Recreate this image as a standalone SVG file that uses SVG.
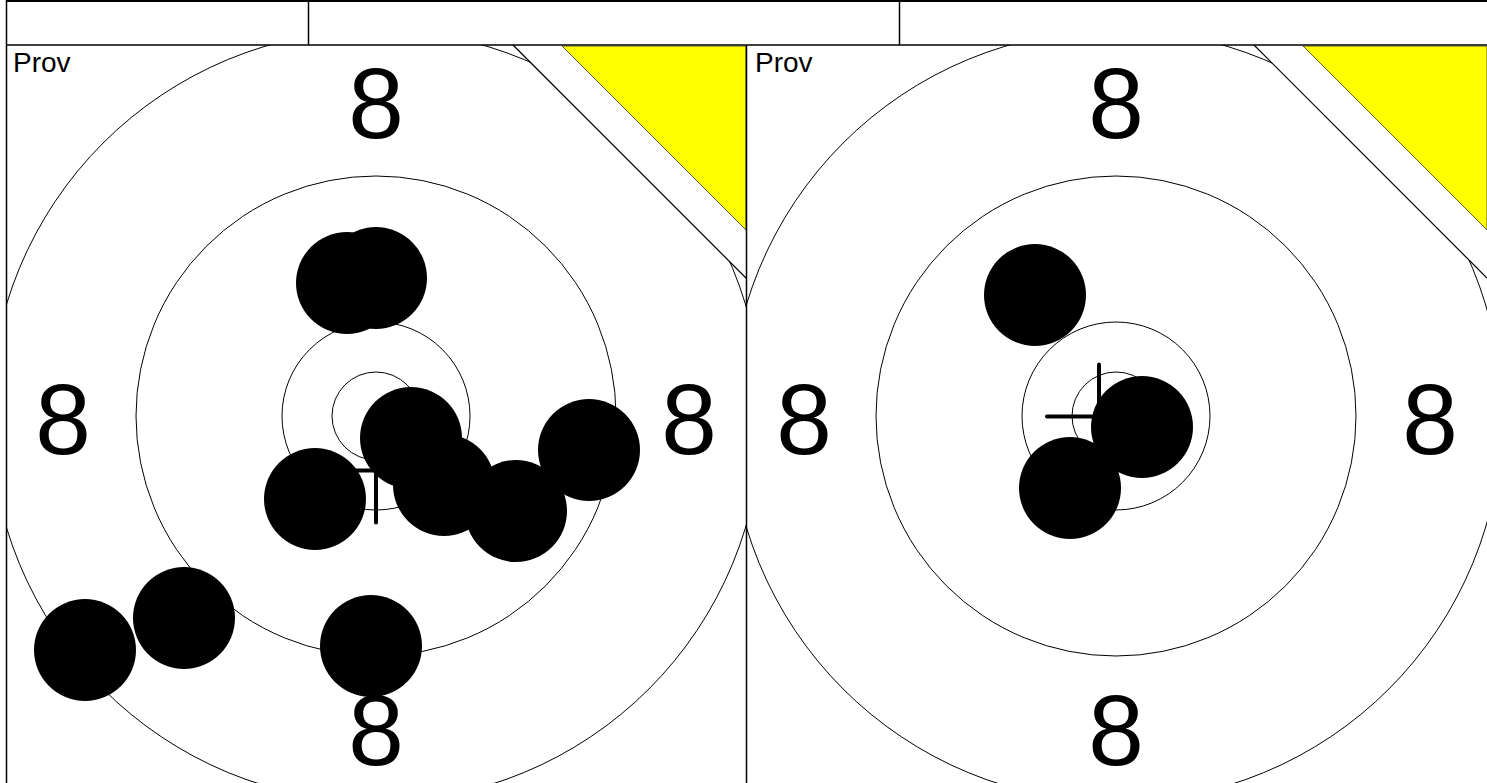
<svg xmlns="http://www.w3.org/2000/svg" width="1487" height="783" viewBox="0 0 1487 783">
<style>
.ring{fill:none;stroke:#000;stroke-width:1}
.shot{fill:#000}
.num{font-family:"Liberation Sans",Arial,sans-serif;font-size:100px;fill:#000;text-anchor:middle}
.lbl{font-family:"Liberation Sans",Arial,sans-serif;font-size:28px;fill:#000}
.cross{stroke:#000;stroke-width:4;stroke-linecap:round}
.diag{stroke:#000;stroke-width:1.2}
.yel{fill:#ffff00;stroke:#333;stroke-width:0.8}
</style>
<defs>
<clipPath id="c1"><polygon points="6,45 513,45 746,278 746,790 6,790"/></clipPath>
<clipPath id="c2"><polygon points="747,45 1254,45 1487,278 1487,790 747,790"/></clipPath>
</defs>
<rect width="1487" height="783" fill="#fff"/>
<g id="header">
<line x1="6" y1="1" x2="1487" y2="1" stroke="#000" stroke-width="2"/>
<line x1="6" y1="45" x2="1487" y2="45" stroke="#000" stroke-width="1.5"/>
<line x1="6.5" y1="0" x2="6.5" y2="783" stroke="#000" stroke-width="1.5"/>
<line x1="308.5" y1="1" x2="308.5" y2="45" stroke="#000" stroke-width="1.5"/>
<line x1="899.5" y1="1" x2="899.5" y2="45" stroke="#000" stroke-width="1.5"/>
</g>
<g id="panel1">
<g clip-path="url(#c1)">
<circle class="ring" cx="376" cy="416" r="386"/>
<circle class="ring" cx="376" cy="416" r="240"/>
<circle class="ring" cx="376" cy="416" r="94"/>
<circle class="ring" cx="376" cy="416" r="44"/>
</g>
<line class="diag" x1="513" y1="45" x2="746" y2="278"/>
<polygon class="yel" points="562,46 746,46 746,230"/>
<text class="lbl" x="13" y="72">Prov</text>
<text class="num" x="376" y="138">8</text>
<text class="num" x="376" y="765">8</text>
<text class="num" x="63" y="454">8</text>
<text class="num" x="689" y="454">8</text>
<line class="cross" x1="324" y1="470.5" x2="428" y2="470.5"/>
<line class="cross" x1="376" y1="418.5" x2="376" y2="522.5"/>
<circle class="shot" cx="85" cy="650" r="51"/>
<circle class="shot" cx="184" cy="618" r="51"/>
<circle class="shot" cx="371" cy="646" r="51"/>
<circle class="shot" cx="347" cy="283" r="51"/>
<circle class="shot" cx="376" cy="278" r="51"/>
<circle class="shot" cx="411" cy="438" r="51"/>
<circle class="shot" cx="315" cy="499" r="51"/>
<circle class="shot" cx="444" cy="485" r="51"/>
<circle class="shot" cx="516" cy="511" r="51"/>
<circle class="shot" cx="589" cy="450" r="51"/>
</g>
<g id="panel2">
<g clip-path="url(#c2)">
<circle class="ring" cx="1116" cy="416" r="386"/>
<circle class="ring" cx="1116" cy="416" r="240"/>
<circle class="ring" cx="1116" cy="416" r="94"/>
<circle class="ring" cx="1116" cy="416" r="44"/>
</g>
<line class="diag" x1="1254" y1="45" x2="1487" y2="278"/>
<polygon class="yel" points="1303,46 1487,46 1487,230"/>
<text class="lbl" x="755" y="72">Prov</text>
<text class="num" x="1116" y="138">8</text>
<text class="num" x="1116" y="765">8</text>
<text class="num" x="804" y="454">8</text>
<text class="num" x="1430" y="454">8</text>
<line class="cross" x1="1047" y1="416.5" x2="1151" y2="416.5"/>
<line class="cross" x1="1099" y1="364.5" x2="1099" y2="468.5"/>
<circle class="shot" cx="1035" cy="295" r="51"/>
<circle class="shot" cx="1142" cy="427" r="51"/>
<circle class="shot" cx="1070" cy="488" r="51"/>
</g>
<line x1="746.5" y1="45" x2="746.5" y2="783" stroke="#000" stroke-width="1.5"/>
</svg>
